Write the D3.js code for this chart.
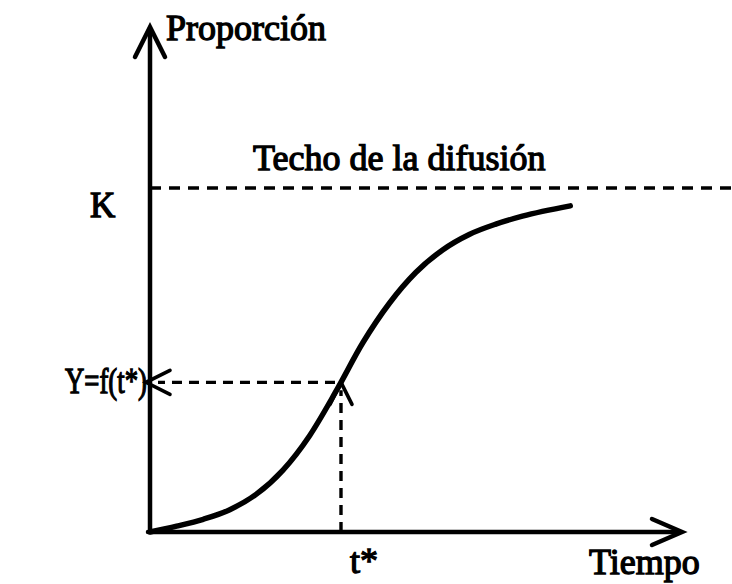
<!DOCTYPE html>
<html>
<head>
<meta charset="utf-8">
<script src="https://cdn.jsdelivr.net/npm/d3@7"></script>
<style>
  html, body { margin: 0; padding: 0; background: #fff; }
  svg { display: block; }
  text { font-family: "Liberation Serif", "Times New Roman", serif; fill: #000; stroke: #000; stroke-width: 1.3; }
</style>
</head>
<body>
<div id="chart"></div>
<script>
// logistic diffusion curve (t in 0..100, proportion with K = 1)
const tiempo =     [0, 5, 10, 15, 20, 25, 30, 35, 40, 45, 50, 55, 60, 65, 70, 79];
const proporcion = [0, 0.017, 0.037, 0.065, 0.11, 0.18, 0.28, 0.41, 0.55, 0.665, 0.755, 0.82, 0.865, 0.895, 0.918, 0.948];
const K = 1;
const tStar = 35.9;
const yStar = 0.435;
const yTop = 1.468;     // top of the vertical axis arrow
const xEnd = 100;       // end of the horizontal axis arrow

const labels = {
  y: 'Proporción',
  x: 'Tiempo',
  ceiling: 'Techo de la difusión',
  k: 'K',
  yStar: 'Y=f(t*)',
  tStar: 't*'
};

const width = 732;
const height = 584;

const svg = d3.select('#chart').append('svg')
  .attr('width', width)
  .attr('height', height);

const x = d3.scaleLinear().domain([0, xEnd]).range([150, 682]);
const y = d3.scaleLinear().domain([0, K]).range([532, 188]);

function arrowHead(g, tipX, tipY, angle, len, half) {
  // open arrow: two strokes meeting at the tip
  const a = angle * Math.PI / 180;
  const bx = tipX - len * Math.cos(a), by = tipY - len * Math.sin(a);
  const nx = -Math.sin(a) * half, ny = Math.cos(a) * half;
  g.append('path')
    .attr('d', `M${bx + nx},${by + ny}L${tipX},${tipY}L${bx - nx},${by - ny}`)
    .attr('fill', 'none')
    .attr('stroke', '#000')
    .attr('stroke-width', g.attr('data-w'))
    .attr('stroke-linecap', 'round')
    .attr('stroke-linejoin', 'miter');
}

// axes
const axes = svg.append('g').attr('data-w', 4.5);
axes.append('line')
  .attr('x1', x(0)).attr('y1', y(0) + 1)
  .attr('x2', x(0)).attr('y2', y(yTop) + 2)
  .attr('stroke', '#000').attr('stroke-width', 4.5);
axes.append('line')
  .attr('x1', x(0) - 2).attr('y1', y(0))
  .attr('x2', x(xEnd) - 2).attr('y2', y(0))
  .attr('stroke', '#000').attr('stroke-width', 4.5).attr('stroke-linecap', 'round');
arrowHead(axes, x(0), y(yTop), -90, 30, 15);
arrowHead(axes, x(xEnd), y(0), 0, 30, 13);

// ceiling
svg.append('line')
  .attr('x1', x(0)).attr('y1', y(K))
  .attr('x2', width).attr('y2', y(K))
  .attr('stroke', '#000').attr('stroke-width', 3.4)
  .attr('stroke-dasharray', '11 8');

// guides to the point (t*, f(t*))
const guides = svg.append('g').attr('data-w', 3.6);
guides.append('line')
  .attr('x1', x(tStar) - 6).attr('y1', y(yStar))
  .attr('x2', x(0) + 8).attr('y2', y(yStar))
  .attr('stroke', '#000').attr('stroke-width', 3.4)
  .attr('stroke-dasharray', '10 7');
guides.append('line')
  .attr('x1', x(tStar)).attr('y1', y(0))
  .attr('x2', x(tStar)).attr('y2', y(yStar) + 8)
  .attr('stroke', '#000').attr('stroke-width', 3.4)
  .attr('stroke-dasharray', '10 7');
arrowHead(guides, x(0) - 4, y(yStar), 180, 24, 12);
arrowHead(guides, x(tStar), y(yStar), -90, 22, 11);

// curve
const line = d3.line()
  .x((d, i) => x(tiempo[i]))
  .y(d => y(d))
  .curve(d3.curveMonotoneX);

svg.append('path')
  .datum(proporcion)
  .attr('d', line)
  .attr('fill', 'none')
  .attr('stroke', '#000')
  .attr('stroke-width', 5.5)
  .attr('stroke-linecap', 'round');

// texts
svg.append('text').attr('x', 166).attr('y', 40).attr('font-size', 36).text(labels.y);
svg.append('text').attr('x', 253).attr('y', 170).attr('font-size', 36).text(labels.ceiling);
svg.append('text').attr('x', 90).attr('y', 217).attr('font-size', 35).text(labels.k);
svg.append('text').attr('x', 65).attr('y', 393).attr('font-size', 36)
  .attr('textLength', 82).attr('lengthAdjust', 'spacingAndGlyphs').text(labels.yStar);
svg.append('text').attr('x', 350).attr('y', 573).attr('font-size', 36).text(labels.tStar);
svg.append('text').attr('x', 589).attr('y', 574).attr('font-size', 36).text(labels.x);
</script>
</body>
</html>
